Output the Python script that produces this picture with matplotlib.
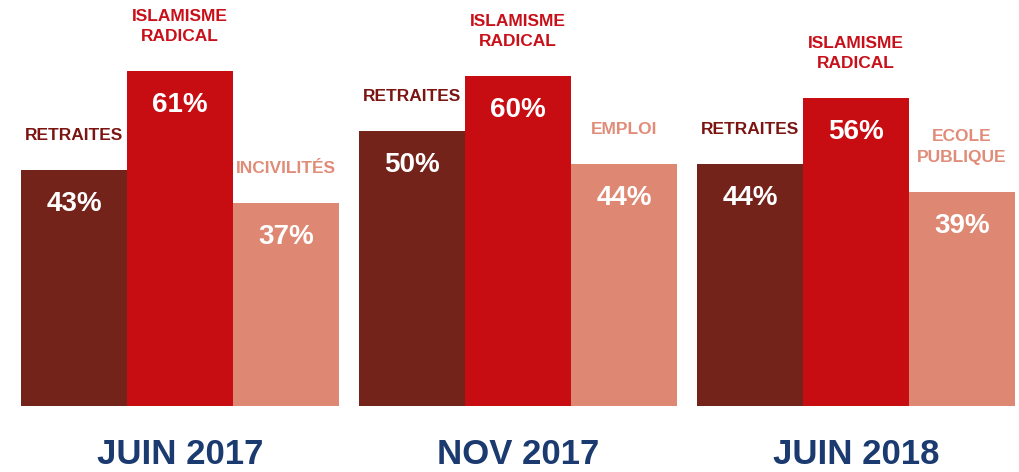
import matplotlib.pyplot as plt

# donnees
vagues = ['JUIN 2017', 'NOV 2017', 'JUIN 2018']
themes = [['RETRAITES', 'ISLAMISME\nRADICAL', 'INCIVILITÉS'],
          ['RETRAITES', 'ISLAMISME\nRADICAL', 'EMPLOI'],
          ['RETRAITES', 'ISLAMISME\nRADICAL', 'ECOLE\nPUBLIQUE']]
valeurs = [[43, 61, 37],
           [50, 60, 44],
           [44, 56, 39]]

couleurs = ['#74231A', '#C70C12', '#DE8772']
couleurs_txt = ['#7A1512', '#C8101A', '#E08C78']
bleu = '#1B3A70'

plt.rcParams['font.family'] = ['Liberation Sans', 'DejaVu Sans']

W, H = 1019, 472
fig = plt.figure(figsize=(W / 100, H / 100), dpi=100)
base = 66  # px depuis le bas
ax = fig.add_axes([0, base / H, 1, 1 - base / H])
px_par_pt = 335 / 61
ax.set_xlim(0, W)
ax.set_ylim(0, (H - base) / px_par_pt)
ax.axis('off')

larg = 106
for g in range(3):
    x0 = 21 + 338 * g
    for i in range(3):
        x = x0 + larg * i
        v = valeurs[g][i]
        ax.bar(x, v, width=larg, align='edge', color=couleurs[i], linewidth=0)
        ax.annotate(f'{v}%', (x + larg / 2, v), xytext=(0, -34), textcoords='offset pixels',
                    ha='center', va='center', color='white', fontsize=20, fontweight='bold')
        ax.annotate(themes[g][i], (x + larg / 2, v), xytext=(0, 27), textcoords='offset pixels',
                    ha='center', va='bottom', color=couleurs_txt[i], fontsize=12.5,
                    fontweight='bold', linespacing=1.45)
    fig.text((x0 + 1.5 * larg) / W, 17 / H, vagues[g], ha='center', va='center',
             color=bleu, fontsize=25, fontweight='bold')

fig.savefig('out.png', dpi=100)
